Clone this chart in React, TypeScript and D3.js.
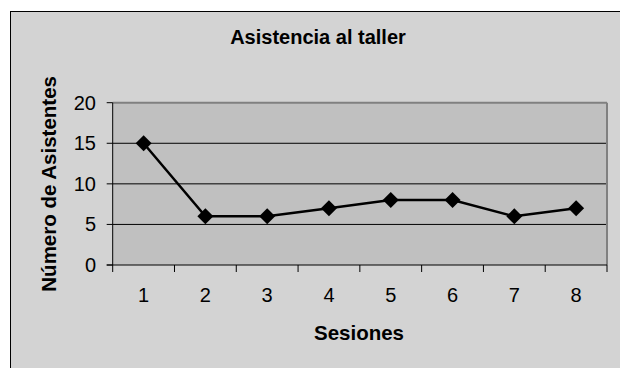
import React from "react";
import * as d3 from "d3";

const sessions = ["1", "2", "3", "4", "5", "6", "7", "8"];
const attendance = [15, 6, 6, 7, 8, 8, 6, 7];
const yTicks = [0, 5, 10, 15, 20];
const title = "Asistencia al taller";
const xTitle = "Sesiones";
const yTitle = "Número de Asistentes";

export default function App() {
  const W = 620, H = 368;
  const left = 112.7, right = 607, top = 102.7, bottom = 265;
  const x = d3.scaleBand<string>().domain(sessions).range([left, right]);
  const y = d3.scaleLinear().domain([0, 20]).range([bottom, top]);
  const line = d3
    .line<number>()
    .x((_, i) => (x(sessions[i]) as number) + x.bandwidth() / 2)
    .y((d) => y(d));
  const font = "'Liberation Sans', Arial, sans-serif";
  const xTickPos = sessions.map((s) => x(s) as number).concat([right]);
  const r = 8;
  return (
    <svg
      width={W}
      height={H}
      style={{ position: "absolute", left: 0, top: 0, background: "#ffffff" }}
      fontFamily={font}
    >
      <rect x={10.5} y={11.5} width={626} height={360} fill="#d3d3d3" stroke="#000" strokeWidth={1} />
      <text x={318} y={43.5} textAnchor="middle" fontSize={20} fontWeight="bold" fill="#000">
        {title}
      </text>
      <rect x={left} y={top} width={right - left} height={bottom - top} fill="#c0c0c0" />
      {yTicks.filter((t) => t > 0 && t < 20).map((t) => (
        <line key={"g" + t} x1={left} x2={right} y1={y(t)} y2={y(t)} stroke="#000" strokeWidth={1} />
      ))}
      <line x1={left} x2={right} y1={top} y2={top} stroke="#808080" strokeWidth={2} />
      <line x1={right} x2={right} y1={top} y2={bottom} stroke="#808080" strokeWidth={2} />
      <line x1={left} x2={left} y1={top} y2={bottom} stroke="#000" strokeWidth={1} />
      <line x1={left - 6} x2={right} y1={bottom} y2={bottom} stroke="#000" strokeWidth={1} />
      {yTicks.map((t) => (
        <g key={"y" + t}>
          <line x1={left - 6} x2={left} y1={y(t)} y2={y(t)} stroke="#000" strokeWidth={1} />
          <text x={96} y={y(t)} dy="0.35em" textAnchor="end" fontSize={20} fill="#000">
            {t}
          </text>
        </g>
      ))}
      {xTickPos.map((p, i) => (
        <line key={"xt" + i} x1={p} x2={p} y1={bottom} y2={bottom + 7} stroke="#000" strokeWidth={1} />
      ))}
      {sessions.map((s) => (
        <text
          key={"xl" + s}
          x={(x(s) as number) + x.bandwidth() / 2}
          y={301.7}
          textAnchor="middle"
          fontSize={20}
          fill="#000"
        >
          {s}
        </text>
      ))}
      <text x={359} y={340} textAnchor="middle" fontSize={20.5} fontWeight="bold" fill="#000">
        {xTitle}
      </text>
      <text
        transform={`translate(56, ${(top + bottom) / 2}) rotate(-90)`}
        textAnchor="middle"
        fontSize={20.5}
        fontWeight="bold"
        fill="#000"
      >
        {yTitle}
      </text>
      <path d={line(attendance) || ""} fill="none" stroke="#000" strokeWidth={2.5} />
      {attendance.map((v, i) => {
        const cx = (x(sessions[i]) as number) + x.bandwidth() / 2;
        const cy = y(v);
        return (
          <path
            key={"m" + i}
            d={`M${cx},${cy - r}L${cx + r},${cy}L${cx},${cy + r}L${cx - r},${cy}Z`}
            fill="#000"
          />
        );
      })}
    </svg>
  );
}
